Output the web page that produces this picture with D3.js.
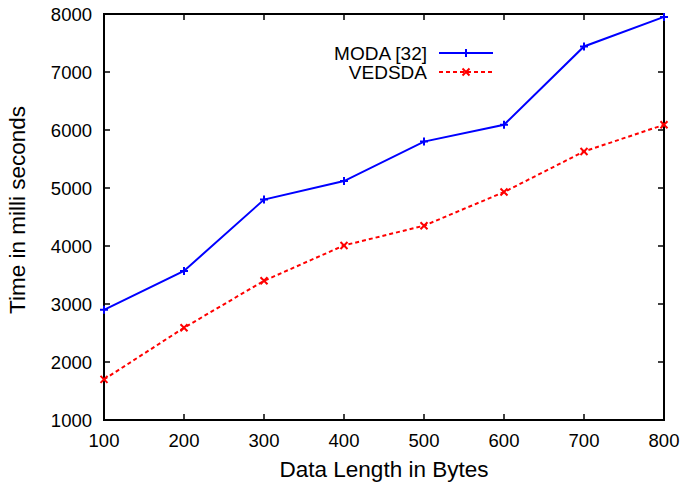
<!DOCTYPE html>
<html><head><meta charset="utf-8">
<script src="https://cdn.jsdelivr.net/npm/d3@7"></script>
<style>body{margin:0;background:#fff}text{font-family:"Liberation Sans",Arial,sans-serif;fill:#000}</style>
</head><body>
<svg id="c" width="684" height="484"></svg>
<script>
const xValues = [100, 200, 300, 400, 500, 600, 700, 800];
const modaValues = [2900, 3570, 4800, 5120, 5800, 6090, 7440, 7950];
const vedsdaValues = [1700, 2590, 3400, 4010, 4350, 4930, 5630, 6090];
const xTicks = [100, 200, 300, 400, 500, 600, 700, 800];
const yTicks = [1000, 2000, 3000, 4000, 5000, 6000, 7000, 8000];
const seriesNames = ["MODA [32]", "VEDSDA"];

const svg = d3.select("#c");
const L = 104, R = 664, T = 14, B = 420;
const x = d3.scaleLinear().domain([100, 800]).range([L, R]);
const y = d3.scaleLinear().domain([1000, 8000]).range([B, T]);
const tl = 6;

const g = svg.append("g");
xTicks.forEach(v => {
  g.append("line").attr("x1", x(v)).attr("x2", x(v)).attr("y1", B).attr("y2", B - tl).attr("stroke", "#000").attr("stroke-width", 1.5);
  g.append("line").attr("x1", x(v)).attr("x2", x(v)).attr("y1", T).attr("y2", T + tl).attr("stroke", "#000").attr("stroke-width", 1.5);
  g.append("text").attr("x", x(v)).attr("y", B + 27).attr("text-anchor", "middle").attr("font-size", 18.5).text(v);
});
yTicks.forEach(v => {
  g.append("line").attr("x1", L).attr("x2", L + tl).attr("y1", y(v)).attr("y2", y(v)).attr("stroke", "#000").attr("stroke-width", 1.5);
  g.append("line").attr("x1", R).attr("x2", R - tl).attr("y1", y(v)).attr("y2", y(v)).attr("stroke", "#000").attr("stroke-width", 1.5);
  g.append("text").attr("x", 92).attr("y", y(v) + 6.5).attr("text-anchor", "end").attr("font-size", 18.5).text(v);
});

svg.append("rect").attr("x", L).attr("y", T).attr("width", R - L).attr("height", B - T)
  .attr("fill", "none").attr("stroke", "#000").attr("stroke-width", 2);

const line = d3.line().x(d => x(d[0])).y(d => y(d[1]));
const moda = xValues.map((v, i) => [v, modaValues[i]]);
const ved = xValues.map((v, i) => [v, vedsdaValues[i]]);

function plus(sel, cx, cy, s, color) {
  sel.append("path").attr("d", `M${cx - s},${cy}H${cx + s}M${cx},${cy - s}V${cy + s}`).attr("stroke", color).attr("stroke-width", 2);
}
function cross(sel, cx, cy, s, color) {
  sel.append("path").attr("d", `M${cx - s},${cy - s}L${cx + s},${cy + s}M${cx - s},${cy + s}L${cx + s},${cy - s}`).attr("stroke", color).attr("stroke-width", 2);
}

const plot = svg.append("g");
plot.append("path").datum(ved).attr("d", line).attr("fill", "none").attr("stroke", "#ff0000").attr("stroke-width", 2).attr("stroke-dasharray", "4,3");
ved.forEach(d => cross(plot, x(d[0]), y(d[1]), 3.5, "#ff0000"));
plot.append("path").datum(moda).attr("d", line).attr("fill", "none").attr("stroke", "#0000ff").attr("stroke-width", 2);
moda.forEach(d => plus(plot, x(d[0]), y(d[1]), 4, "#0000ff"));

const lg = svg.append("g");
lg.append("text").attr("x", 427).attr("y", 60).attr("text-anchor", "end").attr("font-size", 19).text(seriesNames[0]);
lg.append("text").attr("x", 427).attr("y", 79).attr("text-anchor", "end").attr("font-size", 19).text(seriesNames[1]);
lg.append("line").attr("x1", 439).attr("x2", 493).attr("y1", 53).attr("y2", 53).attr("stroke", "#0000ff").attr("stroke-width", 2);
plus(lg, 466, 53, 4, "#0000ff");
lg.append("line").attr("x1", 439).attr("x2", 493).attr("y1", 72).attr("y2", 72).attr("stroke", "#ff0000").attr("stroke-width", 2).attr("stroke-dasharray", "4,3");
cross(lg, 466, 72, 3.5, "#ff0000");

svg.append("text").attr("x", 384).attr("y", 477).attr("text-anchor", "middle").attr("font-size", 22.5).text("Data Length in Bytes");
svg.append("text").attr("transform", "translate(25,210) rotate(-90)").attr("text-anchor", "middle").attr("font-size", 22.5).text("Time in milli seconds");
</script>
</body></html>
